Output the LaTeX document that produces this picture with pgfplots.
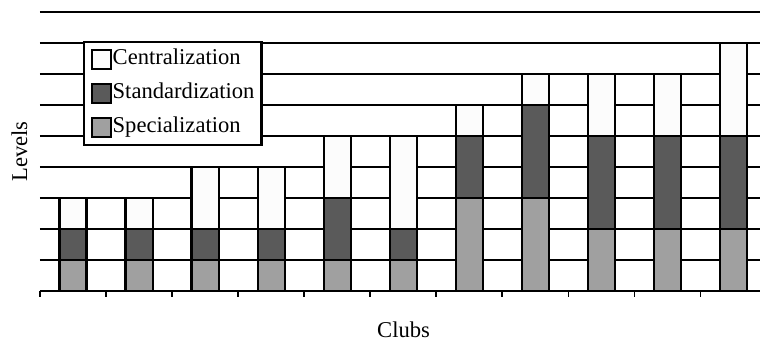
\documentclass[border=0pt]{standalone}
\usepackage{pgfplots}
\pgfplotsset{compat=1.18}
\usepackage{fontspec}
\setmainfont{Liberation Serif}
\definecolor{cent}{RGB}{252,252,252}
\definecolor{stdz}{RGB}{90,90,90}
\definecolor{spec}{RGB}{160,160,160}

\begin{document}
\begin{tikzpicture}[font=\fontsize{11.3}{13.5}\selectfont]
\useasboundingbox (-20pt,-25pt) rectangle (360pt,145.5pt);
\begin{axis}[
  at={(0,0)}, anchor=south west,
  width=360pt, height=139.5pt, scale only axis,
  xmin=-0.5, xmax=10.4, ymin=0, ymax=9,
  ybar stacked, bar width=0.41,
  axis x line*=bottom, axis y line*=left,
  y axis line style={draw=none},
  x axis line style={black, line width=1.1pt, -},
  ytick={1,...,9}, yticklabels={}, ytick style={draw=none},
  ymajorgrids, grid style={black, line width=1.1pt},
  xtick={-0.5,0.5,...,9.5}, xticklabels={},
  tick align=outside, major tick length=3pt,
  xtick style={black, line width=0.9pt},
  xlabel={Clubs}, ylabel={Levels},
  xlabel style={at={(axis description cs:0.505,-0.14)}, anchor=center},
  ylabel style={at={(axis description cs:-0.0285,0.5)}, anchor=center},
  legend image code/.code={\draw[#1, draw=black, line width=0.8pt] (0pt,-4.75pt) rectangle (9.5pt,4.75pt);},
  reverse legend,
  legend style={at={(axis description cs:0.0597,0.896)}, anchor=north west,
    draw=black, line width=1.1pt, fill=white,
    inner xsep=3.5pt, inner ysep=2.9pt, row sep=5.5pt, column sep=0.5pt,
    nodes={inner sep=0pt, text height=8.5pt, text depth=3pt},
    cells={anchor=west},
    font=\fontsize{11.3}{13.5}\selectfont},
]
\addplot[fill=spec, draw=black, line width=1.1pt] coordinates
  {(0,1) (1,1) (2,1) (3,1) (4,1) (5,1) (6,3) (7,3) (8,2) (9,2) (10,2)};
\addplot[fill=stdz, draw=black, line width=1.1pt] coordinates
  {(0,1) (1,1) (2,1) (3,1) (4,2) (5,1) (6,2) (7,3) (8,3) (9,3) (10,3)};
\addplot[fill=cent, draw=black, line width=1.1pt] coordinates
  {(0,1) (1,1) (2,2) (3,2) (4,2) (5,3) (6,1) (7,1) (8,2) (9,2) (10,3)};
\legend{Specialization, Standardization, Centralization}
\end{axis}
\end{tikzpicture}
\end{document}
